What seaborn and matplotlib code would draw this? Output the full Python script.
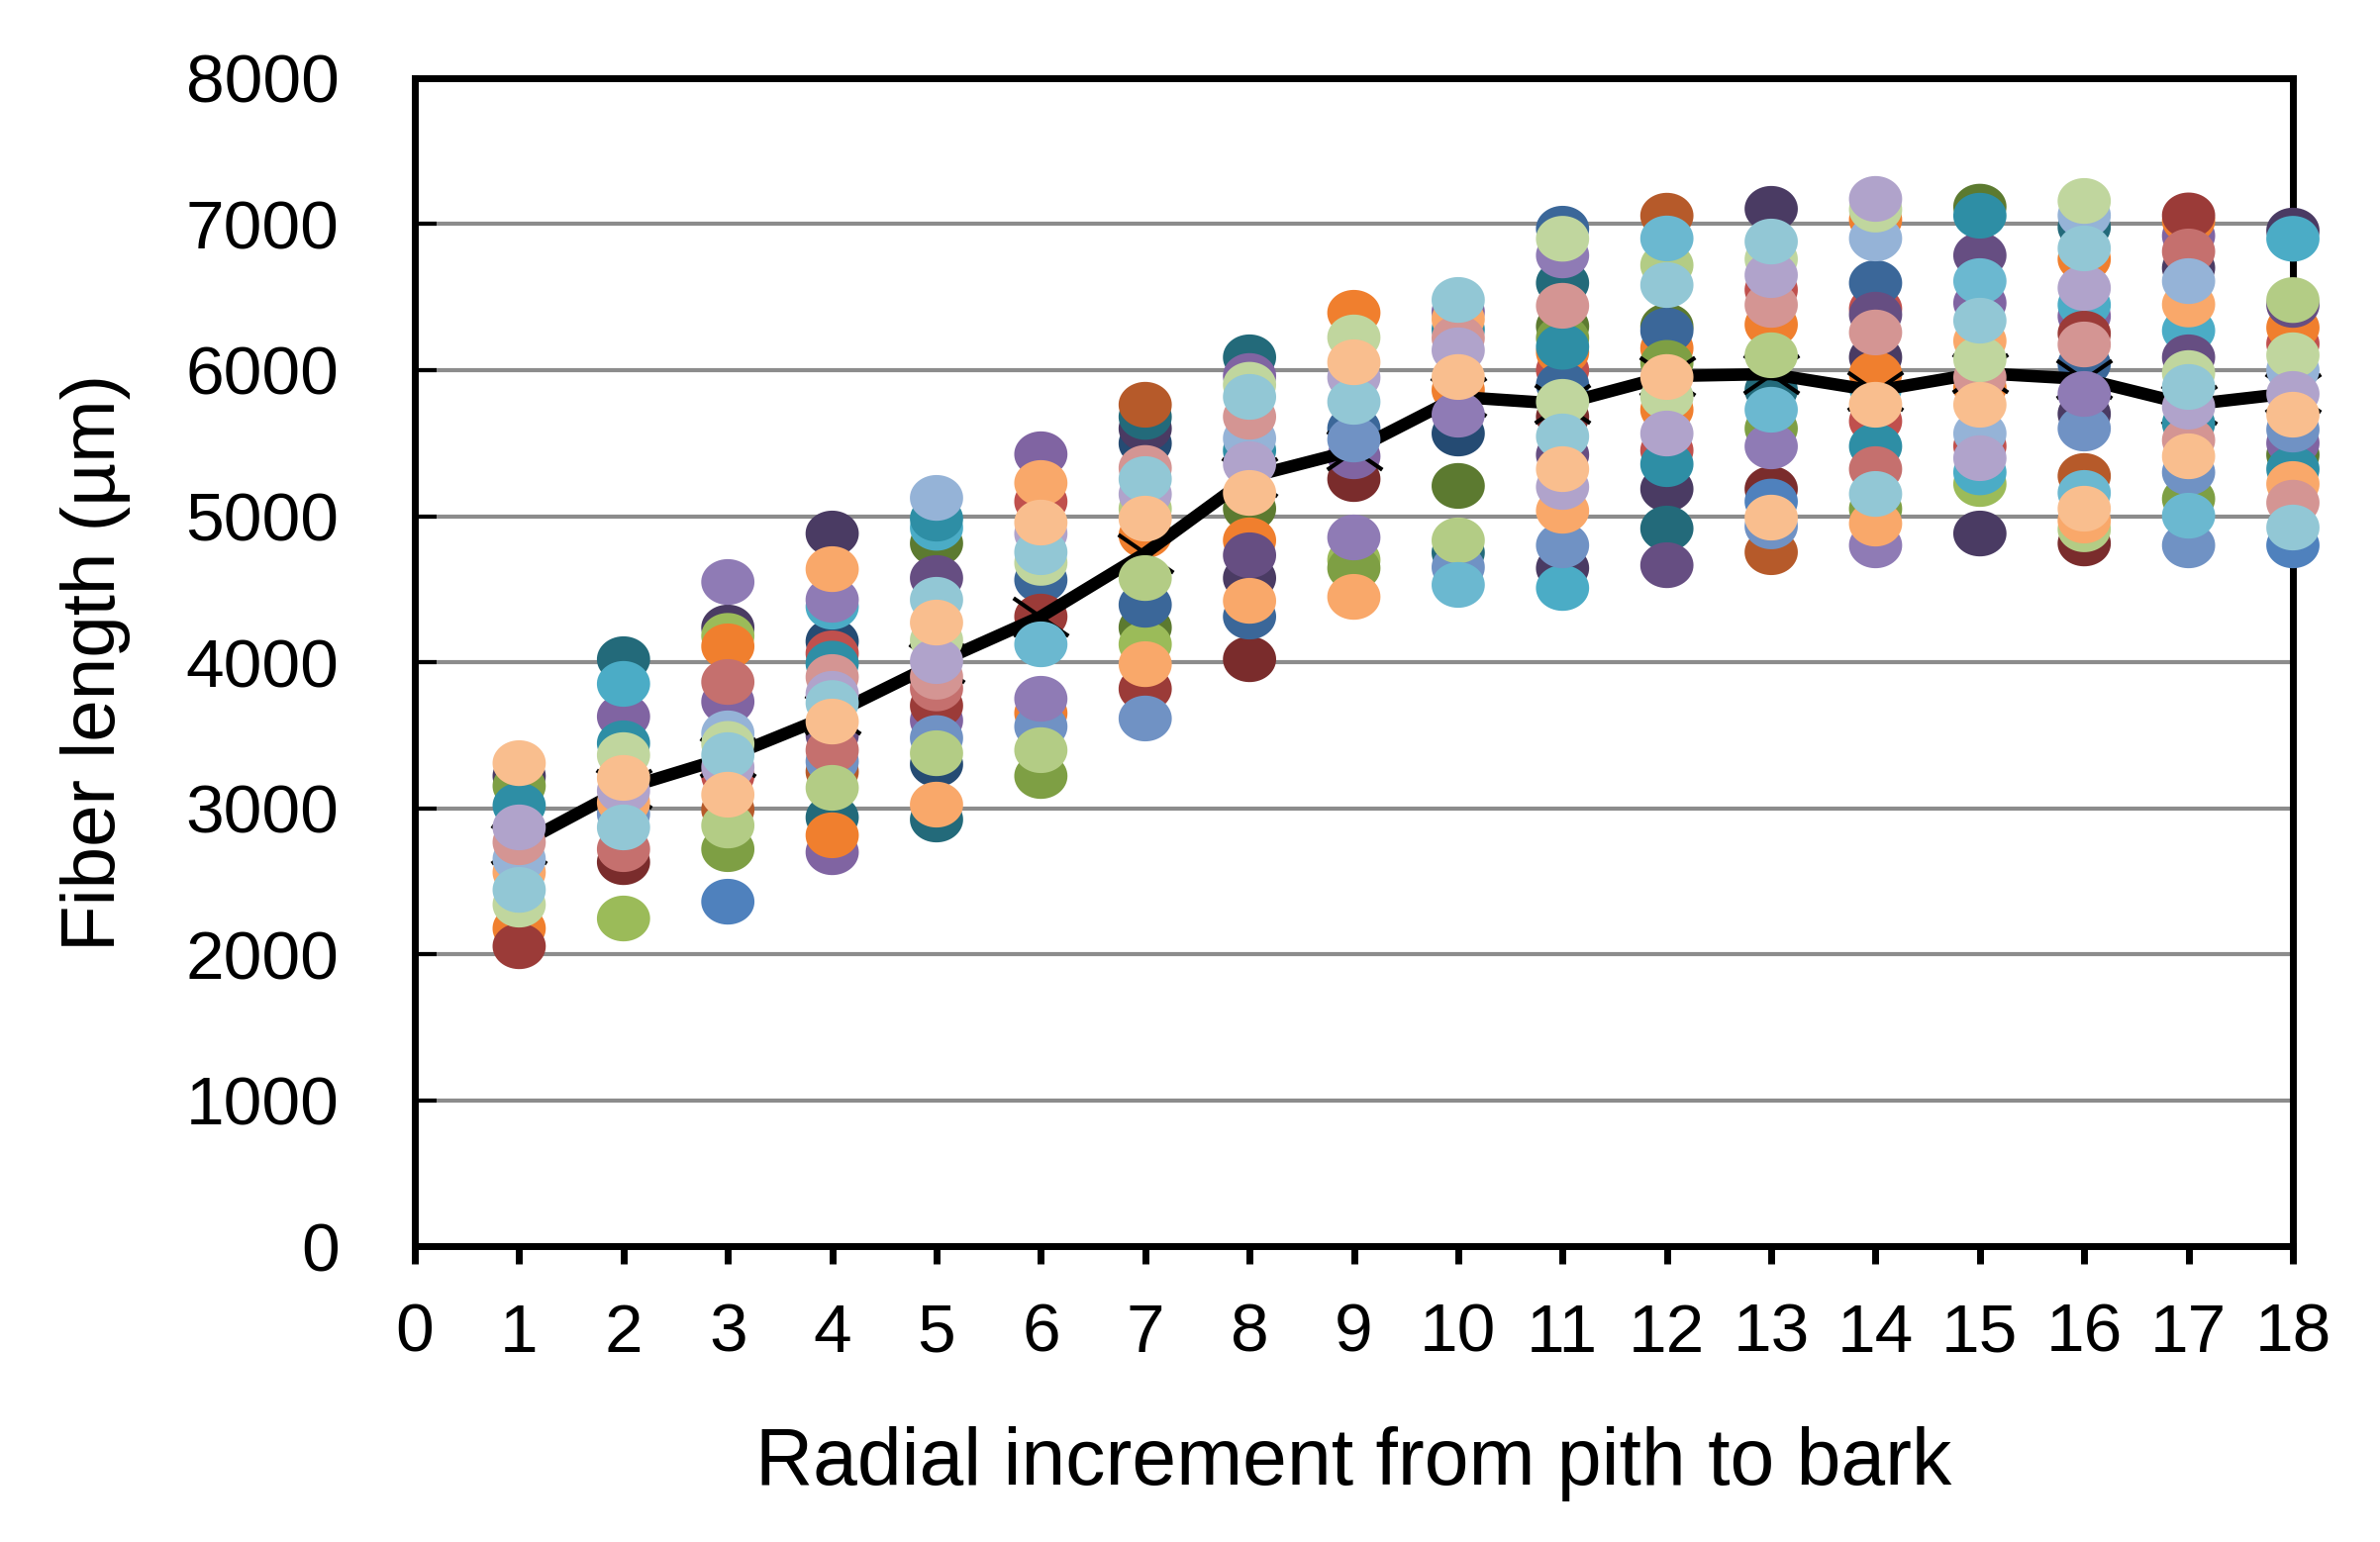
import numpy as np
import pandas as pd
import matplotlib
matplotlib.use("Agg")
import matplotlib.pyplot as plt
from matplotlib.path import Path
import seaborn as sns

# ---------------- data ----------------
increments = list(range(1, 19))
mean_length = [2750, 3132, 3350, 3641, 3993, 4312, 4746, 5268, 5451,
               5817, 5769, 5959, 5973, 5858, 5980, 5939, 5763, 5844]

palette = {
    'blue': '#4F81BD', 'red': '#C0504D', 'green': '#9BBB59', 'purple': '#8064A2',
    'aqua': '#4BACC6', 'orange': '#F07F2E',
    'navy': '#3B6799', 'darkred': '#9B3B38', 'olive': '#7E9F44', 'dpurple': '#664E82',
    'teal': '#2E8EA5', 'brown': '#B65A2A',
    'mblue': '#7092C4', 'rose': '#C5706E', 'lgreen': '#B3CC85', 'lpurple': '#8F7BB5',
    'laqua': '#6BB8D0', 'lorange': '#F9A86A',
    'dnavy': '#254B73', 'maroon': '#7A2C2C', 'dolive': '#5C7A30', 'dkpurple': '#4A3B63',
    'dteal': '#236A7A',
    'pblue': '#95B3D7', 'pink': '#D49593', 'pgreen': '#C0D69E', 'lavender': '#B0A3CB',
    'lcyan': '#92C7D5', 'peach': '#F9BE8E',
}
# series drawing order (later = on top); mean line sits after 'line_after'
draw_order = ['dnavy', 'maroon', 'dolive', 'dkpurple', 'dteal',
              'blue', 'red', 'green', 'purple', 'aqua', 'orange',
              'navy', 'darkred', 'olive', 'dpurple', 'teal', 'brown',
              'mblue', 'rose', 'lgreen', 'lpurple', 'laqua', 'lorange',
              'pblue', 'pink', 'pgreen', 'lavender', 'lcyan', 'peach']
line_after = 'dpurple'

inc1_val = [3308, 3220, 3152, 3017, 2868, 2766, 2651, 2560, 2440, 2339, 2176, 2054]
inc1_col = ['peach', 'dkpurple', 'olive', 'teal', 'lavender', 'pink', 'pblue', 'lorange', 'lcyan', 'pgreen', 'orange', 'darkred']
inc2_val = [4020, 3851, 3627, 3444, 3363, 3207, 3119, 3037, 2960, 2868, 2719, 2630, 2244]
inc2_col = ['dteal', 'aqua', 'purple', 'teal', 'pgreen', 'peach', 'lavender', 'lorange', 'mblue', 'lcyan', 'rose', 'maroon', 'green']
inc3_val = [4549, 4237, 4180, 4108, 3864, 3729, 3512, 3440, 3363, 3280, 3220, 3092, 2990, 2881, 2719, 2359]
inc3_col = ['lpurple', 'dkpurple', 'green', 'orange', 'rose', 'purple', 'pblue', 'pgreen', 'lcyan', 'lavender', 'red', 'peach', 'brown', 'lgreen', 'olive', 'blue']
inc4_val = [4881, 4637, 4427, 4380, 4142, 4060, 3990, 3898, 3783, 3720, 3593, 3500, 3397, 3320, 3250, 3139, 2936, 2814, 2698]
inc4_col = ['dkpurple', 'lorange', 'lpurple', 'aqua', 'dnavy', 'red', 'teal', 'pink', 'lavender', 'lcyan', 'peach', 'dpurple', 'rose', 'mblue', 'brown', 'lgreen', 'dteal', 'orange', 'purple']
inc5_val = [5125, 4983, 4920, 4813, 4576, 4427, 4271, 4150, 4007, 3900, 3820, 3702, 3600, 3480, 3376, 3300, 3024, 2922]
inc5_col = ['pblue', 'teal', 'aqua', 'dolive', 'dpurple', 'lcyan', 'peach', 'pgreen', 'lavender', 'pink', 'rose', 'darkred', 'purple', 'mblue', 'lgreen', 'dnavy', 'lorange', 'dteal']
inc6_val = [5424, 5227, 5100, 4956, 4880, 4753, 4680, 4563, 4312, 4122, 3749, 3650, 3559, 3397, 3220]
inc6_col = ['purple', 'lorange', 'red', 'peach', 'lavender', 'lcyan', 'pgreen', 'navy', 'darkred', 'laqua', 'lpurple', 'orange', 'mblue', 'lgreen', 'olive']
inc7_val = [5763, 5680, 5600, 5498, 5330, 5254, 5150, 5050, 4983, 4868, 4576, 4393, 4237, 4122, 3986, 3817, 3614]
inc7_col = ['brown', 'dteal', 'dkpurple', 'dnavy', 'pink', 'lcyan', 'lavender', 'lgreen', 'peach', 'orange', 'lgreen', 'navy', 'dolive', 'green', 'lorange', 'darkred', 'mblue']
inc8_val = [6088, 5960, 5900, 5817, 5681, 5532, 5450, 5356, 5159, 5051, 4834, 4732, 4576, 4420, 4312, 4020]
inc8_col = ['dteal', 'purple', 'pgreen', 'lcyan', 'pink', 'pblue', 'teal', 'lavender', 'peach', 'dolive', 'orange', 'dpurple', 'dkpurple', 'lorange', 'navy', 'maroon']
inc9_val = [6393, 6224, 6054, 5950, 5783, 5600, 5525, 5410, 5254, 4854, 4700, 4644, 4447]
inc9_col = ['orange', 'pgreen', 'peach', 'lavender', 'lcyan', 'navy', 'mblue', 'purple', 'maroon', 'lpurple', 'green', 'olive', 'lorange']
inc10_val = [6481, 6400, 6350, 6278, 6220, 6136, 5953, 5864, 5695, 5566, 5207, 4834, 4750, 4650, 4529]
inc10_col = ['lcyan', 'purple', 'lorange', 'teal', 'pink', 'lavender', 'peach', 'orange', 'lpurple', 'dnavy', 'dolive', 'lgreen', 'dteal', 'mblue', 'laqua']
inc11_val = [6969, 6900, 6786, 6597, 6441, 6300, 6220, 6160, 6122, 6000, 5900, 5783, 5680, 5546, 5420, 5322, 5200, 5037, 4800, 4644, 4508]
inc11_col = ['navy', 'pgreen', 'lpurple', 'dteal', 'pink', 'dolive', 'olive', 'teal', 'orange', 'red', 'navy', 'pgreen', 'maroon', 'lcyan', 'dpurple', 'peach', 'lavender', 'lorange', 'mblue', 'dkpurple', 'aqua']
inc12_val = [7058, 6902, 6719, 6583, 6300, 6271, 6150, 6050, 5953, 5817, 5729, 5566, 5450, 5356, 5186, 4915, 4664]
inc12_col = ['brown', 'laqua', 'lgreen', 'lcyan', 'dolive', 'navy', 'orange', 'olive', 'peach', 'pgreen', 'orange', 'lavender', 'red', 'teal', 'dkpurple', 'dteal', 'dpurple']
inc13_val = [7105, 6881, 6760, 6651, 6550, 6447, 6312, 6102, 5864, 5729, 5600, 5478, 5186, 5100, 4990, 4930, 4753]
inc13_col = ['dkpurple', 'lcyan', 'pgreen', 'lavender', 'red', 'pink', 'orange', 'lgreen', 'dteal', 'laqua', 'olive', 'lpurple', 'maroon', 'blue', 'peach', 'mblue', 'brown']
inc14_val = [7173, 7100, 7030, 6902, 6597, 6420, 6380, 6258, 6088, 5973, 5880, 5763, 5650, 5478, 5322, 5152, 5050, 4949, 4800]
inc14_col = ['lavender', 'pgreen', 'orange', 'pblue', 'navy', 'red', 'dpurple', 'pink', 'dkpurple', 'orange', 'aqua', 'peach', 'red', 'teal', 'rose', 'lcyan', 'olive', 'lorange', 'lpurple']
inc15_val = [7120, 7058, 6786, 6610, 6460, 6339, 6200, 6075, 5950, 5880, 5763, 5566, 5480, 5397, 5300, 5220, 4881]
inc15_col = ['dolive', 'teal', 'dpurple', 'laqua', 'purple', 'lcyan', 'lorange', 'pgreen', 'pink', 'orange', 'peach', 'pblue', 'red', 'lavender', 'aqua', 'green', 'dkpurple']
inc16_val = [7159, 7060, 6980, 6834, 6760, 6563, 6447, 6370, 6250, 6176, 6041, 5837, 5700, 5600, 5275, 5159, 5051, 4970, 4910, 4813]
inc16_col = ['pgreen', 'pblue', 'dteal', 'lcyan', 'orange', 'lavender', 'aqua', 'purple', 'darkred', 'pink', 'navy', 'lpurple', 'dkpurple', 'mblue', 'brown', 'laqua', 'peach', 'lorange', 'lgreen', 'maroon']
inc17_val = [7060, 7024, 6920, 6813, 6700, 6610, 6450, 6271, 6088, 5980, 5885, 5750, 5634, 5520, 5410, 5300, 5118, 5003, 4800]
inc17_col = ['darkred', 'orange', 'purple', 'rose', 'dkpurple', 'pblue', 'lorange', 'aqua', 'dpurple', 'pgreen', 'lcyan', 'lavender', 'teal', 'pink', 'peach', 'mblue', 'olive', 'laqua', 'mblue']
inc18_val = [6956, 6900, 6480, 6447, 6291, 6180, 6102, 6000, 5837, 5695, 5593, 5500, 5420, 5322, 5220, 5092, 4922, 4800]
inc18_col = ['dkpurple', 'aqua', 'lgreen', 'dpurple', 'orange', 'red', 'pgreen', 'pblue', 'lavender', 'peach', 'mblue', 'purple', 'dolive', 'teal', 'lorange', 'pink', 'lcyan', 'blue']

values = [inc1_val, inc2_val, inc3_val, inc4_val, inc5_val, inc6_val, inc7_val, inc8_val, inc9_val,
          inc10_val, inc11_val, inc12_val, inc13_val, inc14_val, inc15_val, inc16_val, inc17_val, inc18_val]
colors = [inc1_col, inc2_col, inc3_col, inc4_col, inc5_col, inc6_col, inc7_col, inc8_col, inc9_col,
          inc10_col, inc11_col, inc12_col, inc13_col, inc14_col, inc15_col, inc16_col, inc17_col, inc18_col]

rows = []
for inc, vals, cols in zip(increments, values, colors):
    for v, c in zip(vals, cols):
        rows.append({'increment': inc, 'length': v, 'tree': c, 'rank': draw_order.index(c)})
df = pd.DataFrame(rows).sort_values('rank', kind='stable')
cut = draw_order.index(line_after)
df_low = df[df['rank'] <= cut]
df_high = df[df['rank'] > cut]

# ---------------- style ----------------
sns.set_theme(style='white')
plt.rcParams['font.family'] = ['Liberation Sans', 'DejaVu Sans']
plt.rcParams['text.color'] = 'black'
plt.rcParams['axes.labelcolor'] = 'black'
plt.rcParams['xtick.color'] = 'black'
plt.rcParams['ytick.color'] = 'black'

fig = plt.figure(figsize=(24.04, 15.58), dpi=100)
ax = fig.add_axes([0.1743, 0.1919, 0.9634 - 0.1743, 0.9493 - 0.1919])

t = np.linspace(0, 2 * np.pi, 60)
ellipse = Path(np.column_stack([np.cos(t), 0.86 * np.sin(t)]), closed=True)
xmark = Path([(-1.45, -1), (1.45, 1), (-1.45, 1), (1.45, -1)],
             [Path.MOVETO, Path.LINETO, Path.MOVETO, Path.LINETO])

common = dict(x='increment', y='length', hue='tree', palette=palette, legend=False,
              marker=ellipse, s=1500, linewidth=0, edgecolor='none', ax=ax, clip_on=False)
sns.scatterplot(data=df_low, zorder=3, **common)
sns.lineplot(x=increments, y=mean_length, color='black', linewidth=9, marker=xmark,
             markersize=40, markeredgewidth=3, markeredgecolor='black', zorder=3.5,
             ax=ax, clip_on=False)
sns.scatterplot(data=df_high, zorder=4, **common)

ax.set_xlim(0, 18)
ax.set_ylim(0, 8000)
ax.set_xticks(range(0, 19))
ax.set_yticks(range(0, 8001, 1000))
ax.set_axisbelow(True)
ax.yaxis.grid(True, color='#8c8c8c', lw=3)
ax.xaxis.grid(False)
for sp in ax.spines.values():
    sp.set_visible(True)
    sp.set_color('black')
    sp.set_linewidth(5)
ax.tick_params(axis='x', direction='out', length=13, width=5, color='black',
               labelsize=50, pad=28, bottom=True, top=False, labelcolor='black')
ax.tick_params(axis='y', direction='in', length=16, width=3, color='black',
               labelsize=50, pad=55, left=True, right=False, labelcolor='black')
ax.set_xlabel('Radial increment from pith to bark', fontsize=58, labelpad=44, color='black')
ax.set_ylabel('Fiber length (µm)', fontsize=55, labelpad=40, color='black')

fig.savefig('out.png', dpi=100, facecolor='white')
